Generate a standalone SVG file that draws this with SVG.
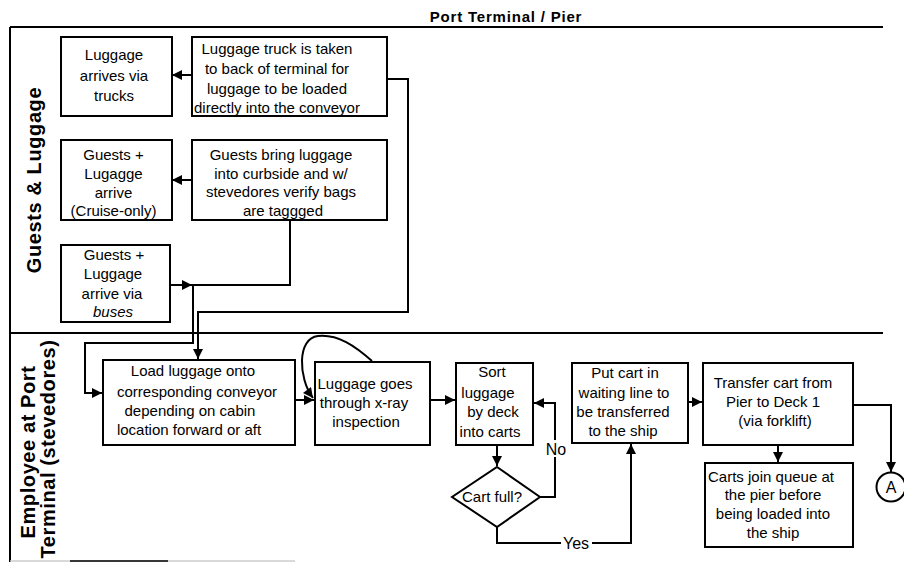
<svg xmlns="http://www.w3.org/2000/svg" width="904" height="562" viewBox="0 0 904 562">
<style>
.bg{fill:#fff}
.box{fill:#fff;stroke:#000;stroke-width:2}
.frame{fill:none;stroke:#000;stroke-width:2}
.t{font-family:"Liberation Sans",Arial,sans-serif;font-size:15px;text-anchor:middle;fill:#000}
.lbl{font-family:"Liberation Sans",Arial,sans-serif;font-size:16px;text-anchor:middle;fill:#000}
.lane{font-family:"Liberation Sans",Arial,sans-serif;font-size:20px;font-weight:bold;text-anchor:middle;fill:#000;letter-spacing:0.6px}
.title{font-family:"Liberation Sans",Arial,sans-serif;font-size:15px;font-weight:bold;text-anchor:middle;fill:#000;letter-spacing:0.8px}
.c{fill:none;stroke:#000;stroke-width:2}
.ca{fill:none;stroke:#000;stroke-width:2;marker-end:url(#ah)}
</style>
<defs>
<marker id="ah" viewBox="0 0 10 10" refX="10" refY="5" markerWidth="12" markerHeight="10" markerUnits="userSpaceOnUse" orient="auto">
<path d="M0,0 L10,5 L0,10 z" fill="#000"/>
</marker>
</defs>
<rect class="bg" x="0" y="0" width="904" height="562"/>

<g id="frame">
<text class="title" x="506" y="22">Port Terminal / Pier</text>
<path class="frame" d="M10,27 H883"/>
<path class="frame" d="M10,333 H883"/>
<path class="frame" d="M10,27 V562"/>
<path d="M10,561 H295" stroke="#ccc" stroke-width="1.5"/>
<path d="M70,561 H168" stroke="#000" stroke-width="1.5"/>
<text class="lane" transform="translate(41,180) rotate(-90)">Guests &amp; Luggage</text>
<text class="lane" transform="translate(35,452) rotate(-90)">Employee at Port</text>
<text class="lane" transform="translate(55,449) rotate(-90)">Terminal (stevedores)</text>
</g>

<g id="connectors">
<path class="ca" d="M192,75 H172"/>
<path class="ca" d="M192,180 H172"/>
<path class="ca" d="M387,79 H408 V312 H198 V359"/>
<path class="ca" d="M290,220 V285 H193 V343 H85 V393 H102"/>
<path class="ca" d="M170,285 H192"/>
<path class="ca" d="M295,400 H314"/>
<path class="ca" d="M372,361 C355,346 338,334 318,336 C297,338 298,378 313,398"/>
<path class="ca" d="M430,400 H455"/>
<path class="ca" d="M497,445 V466"/>
<path class="ca" d="M540,497 H555 V403 H534"/>
<path class="ca" d="M497,527 V543 H631 V444"/>
<path class="ca" d="M688,402 H702"/>
<path class="ca" d="M778,445 V462"/>
<path class="ca" d="M853,405 H891 V472"/>
<rect class="bg" x="546" y="440" width="20" height="17"/>
<text class="lbl" x="556" y="455">No</text>
<rect class="bg" x="561" y="535" width="31" height="16"/>
<text class="lbl" x="576" y="549">Yes</text>
</g>

<g id="n1">
<rect class="box" x="61" y="37" width="111" height="79"/>
<text class="t" x="114" y="60">Luggage</text>
<text class="t" x="114" y="81">arrives via</text>
<text class="t" x="114" y="101">trucks</text>
</g>

<g id="n2">
<rect class="box" x="192" y="37" width="195" height="79"/>
<text class="t" x="277" y="54">Luggage truck is taken</text>
<text class="t" x="277" y="74">to back of terminal for</text>
<text class="t" x="277" y="94">luggage to be loaded</text>
<text class="t" x="277" y="113">directly into the conveyor</text>
</g>

<g id="n3">
<rect class="box" x="61" y="140" width="111" height="80"/>
<text class="t" x="113.5" y="160">Guests +</text>
<text class="t" x="113.5" y="179">Lugagge</text>
<text class="t" x="113.5" y="198">arrive</text>
<text class="t" x="113.5" y="216">(Cruise-only)</text>
</g>

<g id="n4">
<rect class="box" x="192" y="140" width="195" height="80"/>
<text class="t" x="281" y="160">Guests bring luggage</text>
<text class="t" x="281" y="179">into curbside and w/</text>
<text class="t" x="281" y="197">stevedores verify bags</text>
<text class="t" x="283" y="216">are taggged</text>
</g>

<g id="n5">
<rect class="box" x="61" y="245" width="109" height="77"/>
<text class="t" x="114" y="260">Guests +</text>
<text class="t" x="113" y="279">Luggage</text>
<text class="t" x="112" y="299">arrive via</text>
<text class="t" x="113" y="317" font-style="italic">buses</text>
</g>

<g id="n6">
<rect class="box" x="103" y="360" width="192" height="85"/>
<text class="t" x="193" y="376">Load luggage onto</text>
<text class="t" x="197" y="397">corresponding conveyor</text>
<text class="t" x="190" y="416">depending on cabin</text>
<text class="t" x="189" y="435">location forward or aft</text>
</g>

<g id="n7">
<rect class="box" x="315" y="362" width="115" height="83"/>
<text class="t" x="365" y="389">Luggage goes</text>
<text class="t" x="364" y="408">through x-ray</text>
<text class="t" x="366" y="427">inspection</text>
</g>

<g id="n8">
<rect class="box" x="456" y="363" width="77" height="82"/>
<text class="t" x="492" y="377">Sort</text>
<text class="t" x="488" y="398">luggage</text>
<text class="t" x="493" y="417">by deck</text>
<text class="t" x="490" y="437">into carts</text>
</g>

<g id="n9">
<polygon class="box" points="497,467 540,497 497,527 452,497"/>
<text class="t" x="492" y="502">Cart full?</text>
</g>

<g id="n10">
<rect class="box" x="572" y="363" width="116" height="80"/>
<text class="t" x="625" y="378">Put cart in</text>
<text class="t" x="624" y="398">waiting line to</text>
<text class="t" x="623" y="417">be transferred</text>
<text class="t" x="623" y="436">to the ship</text>
</g>

<g id="n11">
<rect class="box" x="703" y="363" width="150" height="82"/>
<text class="t" x="773" y="388">Transfer cart from</text>
<text class="t" x="773" y="407">Pier to Deck 1</text>
<text class="t" x="775" y="426">(via forklift)</text>
</g>

<g id="n12">
<rect class="box" x="705" y="463" width="148" height="84"/>
<text class="t" x="771" y="482">Carts join queue at</text>
<text class="t" x="773" y="500">the pier before</text>
<text class="t" x="773" y="519">being loaded into</text>
<text class="t" x="773" y="538">the ship</text>
</g>

<g id="n13">
<circle class="box" cx="891" cy="487" r="14.5"/>
<text class="lbl" x="891" y="493">A</text>
</g>
</svg>
